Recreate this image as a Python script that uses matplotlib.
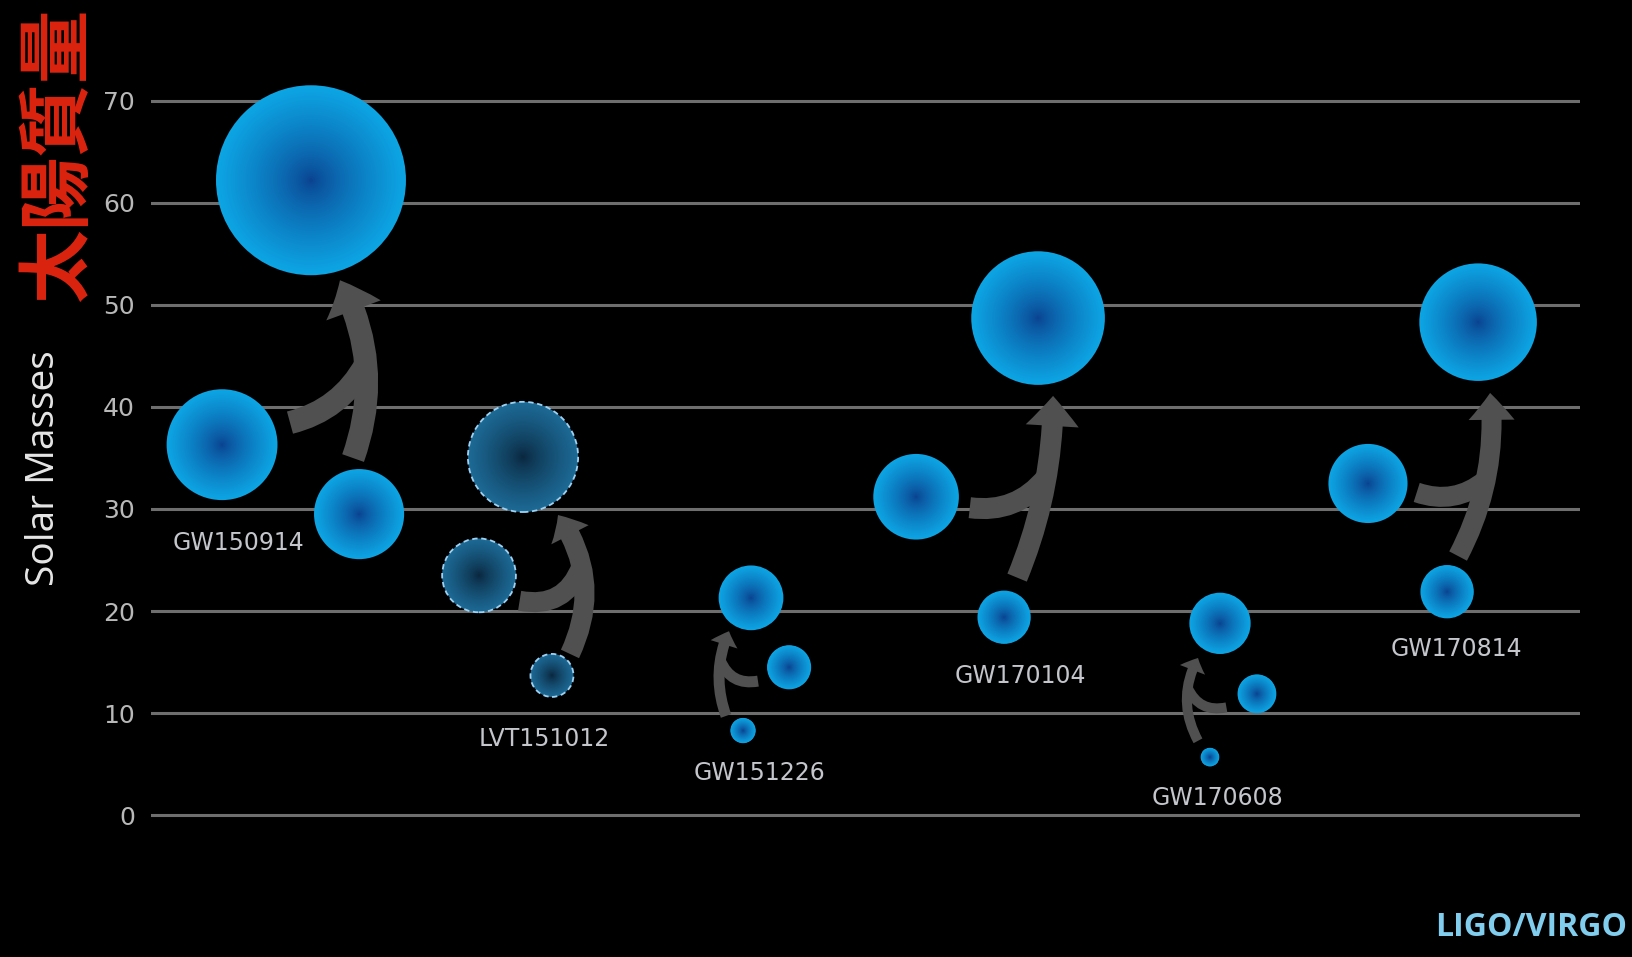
import numpy as np
import matplotlib
matplotlib.use("Agg")
import matplotlib.pyplot as plt
from matplotlib.patches import FancyArrowPatch

#############
# Data (solar masses)
#############

events = ["GW150914", "LVT151012", "GW151226", "GW170104", "GW170608", "GW170814"]
primary_mass = [36.3, 23.5, 14.5, 31.2, 11.9, 32.5]
secondary_mass = [29.5, 13.7, 8.3, 19.4, 5.7, 21.9]
final_mass = [62.2, 35.1, 21.3, 48.7, 18.8, 48.3]
candidate = [False, True, False, False, False, False]   # LVT = dashed, darker

y_ticks = [0, 10, 20, 30, 40, 50, 60, 70]

#############
# Layout / style
#############

W, H, DPI = 1632, 957, 100
PX2PT = 72.0 / DPI

# horizontal offset (in event units) of each bubble and of the label
x_off_primary = [-0.298, -0.171, 0.189, -0.254, 0.241, -0.272]
x_off_secondary = [0.303, 0.149, -0.013, 0.132, 0.035, 0.075]
x_off_final = [0.092, 0.022, 0.022, 0.281, 0.079, 0.211]
label_pos = [(-0.228, 26.7), (0.114, 7.5), (0.061, 4.1),
             (0.202, 13.6), (0.070, 1.7), (0.114, 16.3)]
px_per_mass = [1.527, 1.57, 1.52, 1.372, 1.63, 1.217]   # bubble radius scale

# arrows: main from secondary up to final, branch from primary joining it
# (dx_start, gap_start, dx_tip, gap_tip, rad, tail, head_w, head_l) in px
main_arrow = [(-6, 11, 29, 5, 0.22, 23, 58, 33),
              (18, 0, 35, 3, 0.29, 20, 42, 23),
              (-17, 2, -22, 1, -0.20, 11, 28, 14),
              (13, 13, 15, 11, 0.10, 21, 53, 30),
              (-12, 7, -22, 4, -0.27, 10, 27, 13),
              (11, 9, 12, 12, 0.15, 20, 46, 27)]
# (angle on primary deg, gap px, t on main curve, rad)
branch_arrow = [(18, 16, 0.52, 0.22),
                (-32, 11, 0.62, 0.42),
                (204, 12, 0.65, -0.40),
                (-11.5, 12, 0.56, 0.28),
                (204, 14, 0.64, -0.40),
                (-10.4, 10, 0.48, 0.28)]

bright_edge = np.array([12, 165, 228]) / 255
bright_center = np.array([10, 62, 140]) / 255
dark_edge = np.array([28, 106, 150]) / 255
dark_center = np.array([9, 36, 58]) / 255
arrow_color = "#505050"


def main():
    fig = plt.figure(figsize=(W / DPI, H / DPI), dpi=DPI, facecolor="black")
    ax = fig.add_axes([151 / W, 0, (1580 - 151) / W, 1])
    ax.set_facecolor("black")

    # y: 0 at 815.3 px, 10.21 px per solar mass; x: event i at 290 + 228 i px
    ax.set_ylim((815.3 - H) / 10.21, 815.3 / 10.21)
    ax.set_xlim((151 - 290) / 228, (1580 - 290) / 228)
    for s in ax.spines.values():
        s.set_visible(False)
    ax.set_xticks([])
    ax.set_yticks(y_ticks)
    ax.tick_params(axis="y", length=0, pad=11.5, labelsize=18,
                   labelcolor="#b8b8b8")
    ax.grid(axis="y", color="#6e6e6e", lw=2.2)
    ax.set_axisbelow(True)

    idx = np.arange(len(events))
    xp = idx + np.array(x_off_primary)
    xs = idx + np.array(x_off_secondary)
    xf = idx + np.array(x_off_final)
    k = np.array(px_per_mass)

    bx = np.concatenate([xp, xs, xf])
    by = np.concatenate([primary_mass, secondary_mass, final_mass])
    br = np.concatenate([k * np.array(primary_mass),
                         k * np.array(secondary_mass),
                         k * np.array(final_mass)])
    dark = np.tile(candidate, 3)

    # radial gradient bubbles: stacked scatter layers
    n_layers = 45
    for j in range(n_layers):
        frac = 1 - j / n_layers
        w = frac ** 0.75
        cols = [(dark_center + (dark_edge - dark_center) * w) if d else
                (bright_center + (bright_edge - bright_center) * w) for d in dark]
        ax.scatter(bx, by, s=(2 * br * frac * PX2PT) ** 2, c=cols,
                   linewidths=0, zorder=3)
    ax.scatter(bx[dark], by[dark], s=(2 * br[dark] * PX2PT) ** 2,
               facecolors="none", edgecolors="#9fd2f2", linewidths=1.3,
               linestyle=(0, (3, 2)), zorder=4)

    # arrows (geometry done in display pixels)
    to_disp = ax.transData.transform
    to_data = ax.transData.inverted().transform
    for i in range(len(events)):
        dxs, gs, dxt, gt, rad, tw, hw, hl = main_arrow[i]
        sec = to_disp((xs[i], secondary_mass[i]))
        fin = to_disp((xf[i], final_mass[i]))
        rs, rf = k[i] * secondary_mass[i], k[i] * final_mass[i]
        A = sec + np.array([dxs, rs + gs])
        B = fin + np.array([dxt, -(rf + gt)])
        style = "simple,head_length=%.1f,head_width=%.1f,tail_width=%.1f" % (
            hl * PX2PT, hw * PX2PT, tw * PX2PT)
        ax.add_patch(FancyArrowPatch(to_data(A), to_data(B), arrowstyle=style,
                                     connectionstyle="arc3,rad=%.2f" % rad,
                                     mutation_scale=1, shrinkA=0, shrinkB=0,
                                     color=arrow_color, lw=0, zorder=2))
        # branch
        ang, gp, t, brad = branch_arrow[i]
        M = (A + B) / 2
        d = B - A
        C = M + rad * np.array([d[1], -d[0]])
        J = (1 - t) ** 2 * A + 2 * t * (1 - t) * C + t ** 2 * B
        pri = to_disp((xp[i], primary_mass[i]))
        rp = k[i] * primary_mass[i] + gp
        S = pri + rp * np.array([np.cos(np.radians(ang)), np.sin(np.radians(ang))])
        br_patch = FancyArrowPatch(to_data(S), to_data(J), arrowstyle="-",
                                   connectionstyle="arc3,rad=%.2f" % brad,
                                   shrinkA=0, shrinkB=0, color=arrow_color,
                                   lw=tw * PX2PT, zorder=2)
        br_patch.set_capstyle("butt")
        ax.add_patch(br_patch)

        lx, ly = label_pos[i]
        ax.text(i + lx, ly, events[i], color="#c4c6cc", fontsize=17,
                family="DejaVu Sans", ha="center", va="center", zorder=5)

    fig.text(44 / W, 1 - 468 / H, "Solar Masses", rotation=90, color="#e6e6e6",
             fontsize=28, family="Open Sans", ha="center", va="center")
    fig.text(59 / W, 1 - 155 / H, "太陽質量", rotation=90, color="#dc2410",
             fontsize=53, family=["Noto Sans CJK TC", "DejaVu Sans"],
             weight="bold", ha="center", va="center")
    fig.text(1627 / W, 1 - 927 / H, "LIGO/VIRGO", color="#80cdee",
             fontsize=23, family="Open Sans", weight="bold",
             ha="right", va="center")

    fig.savefig("out.png", dpi=DPI, facecolor="black")


if __name__ == "__main__":
    main()
